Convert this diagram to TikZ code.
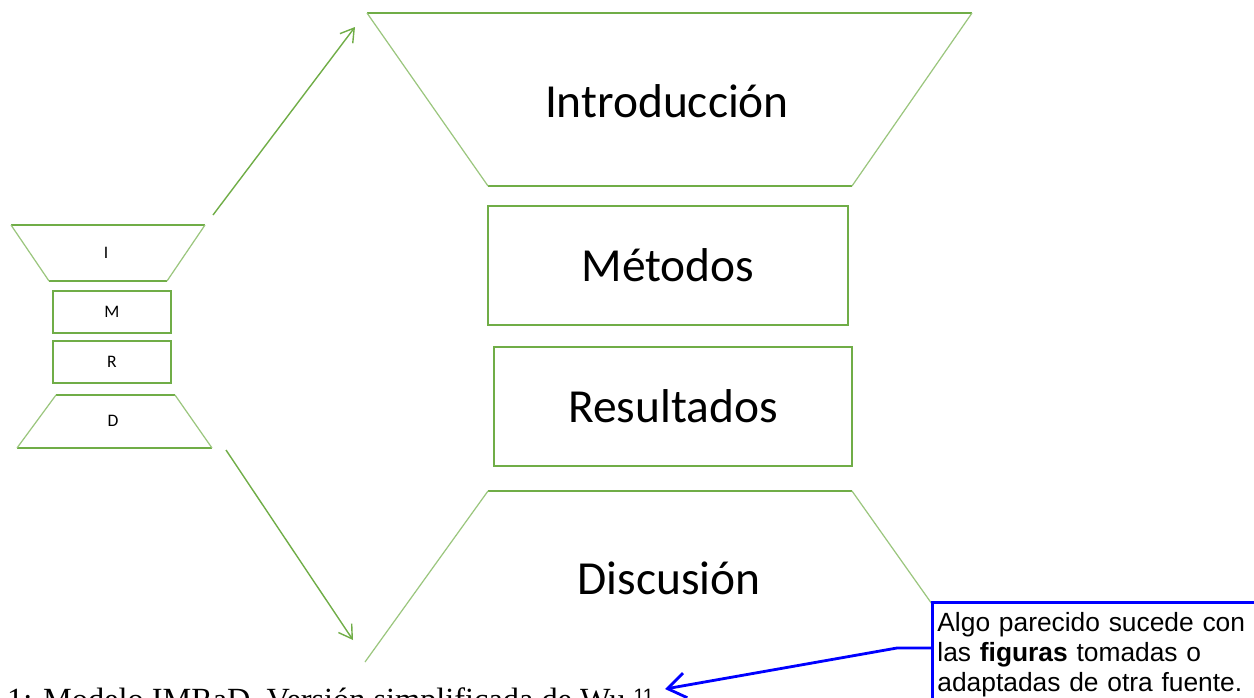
\documentclass[tikz,border=0pt]{standalone}
\usepackage{fontspec}
\setmainfont{Carlito}
\newfontfamily\capfont{Liberation Serif}
\newfontfamily\notefont{Liberation Sans}
\usetikzlibrary{arrows.meta}
\definecolor{imradgreen}{RGB}{112,173,71}
\definecolor{noteblue}{RGB}{0,0,255}

\begin{document}
\begin{tikzpicture}[x=0.2mm, y=-0.2mm,
      every node/.append style={inner sep=0pt},
      frame/.style={draw=imradgreen, line width=0.8pt},
      slant/.style={draw=imradgreen!70, line width=0.7pt},
      expand/.style={draw=imradgreen, line width=0.8pt, -{Straight Barb[length=2.6mm,width=3.2mm]}},
      pointer/.style={draw=noteblue, line width=1.6pt, -{Straight Barb[length=3.6mm,width=5mm]}}]
    \tikzstyle{big} = [font=\fontsize{27}{32}\selectfont]
    \tikzstyle{small} = [font=\fontsize{10}{12}\selectfont]
    \useasboundingbox (0,0) rectangle (1254,698);
    % small IMRaD
    \draw[frame] (11,225) -- (205,225) (49,281) -- (167,281);
    \draw[slant] (11,225) -- (49,281) (205,225) -- (167,281);
    \node[small, anchor=base] (i) at (106,258) {I};
    \node[frame, small, minimum width=23.6mm, minimum height=8.4mm] (m) at (112,312) {M};
    \node[frame, small, minimum width=23.6mm, minimum height=8.4mm] (r) at (112,362) {R};
    \draw[frame] (56,395) -- (175,395) (17,448) -- (212,448);
    \draw[slant] (56,395) -- (17,448) (175,395) -- (212,448);
    \node[small, anchor=base] (d) at (113,426) {D};
    % large IMRaD
    \draw[frame] (367,13) -- (972,13) (488,186) -- (852,186);
    \draw[slant] (367,13) -- (488,186) (972,13) -- (852,186);
    \node[big, anchor=base] (intro) at (667,117) {Introducción};
    \node[frame, big, minimum width=72mm, minimum height=23.8mm] (metodos) at (668,265.5) {Métodos};
    \node[frame, big, minimum width=71.6mm, minimum height=23.8mm] (resultados) at (673,406.5) {Resultados};
    \draw[frame] (488,491) -- (852,491);
    \draw[slant] (488,491) -- (365,662) (852,491) -- (973,662);
    \node[big, anchor=base] (disc) at (669,594) {Discusión};
    % arrows
    \coordinate (from i) at (213,215);
    \coordinate (to intro) at (355,27);
    \coordinate (from d) at (226,450);
    \coordinate (to disc) at (353,640);
    \draw[expand] (from i) -- (to intro);
    \draw[expand] (from d) -- (to disc);
    % caption and note
    \node[font=\capfont\fontsize{18.4}{22}\selectfont, anchor=base east] (cap) at (654,710)
      {Figura 1: Modelo IMRaD. Versión simplificada de Wu \raisebox{4pt}{\notefont\fontsize{11}{11}\selectfont 11}};
    \node[draw=noteblue, line width=1.6pt, fill=white, anchor=north west, inner xsep=1mm, inner ysep=1.2mm,
      minimum height=21mm, text width=64mm, align=left, font=\notefont\fontsize{15}{17}\selectfont] (note) at (931,601)
      {Algo parecido sucede con\\ las \textbf{figuras} tomadas o\\ adaptadas de otra fuente.};
    \coordinate (bend) at (897,648);
    \draw[pointer] (note.west |- bend) -- (bend) -- ([shift={(11,-21)}]cap.base east);
\end{tikzpicture}
\end{document}
